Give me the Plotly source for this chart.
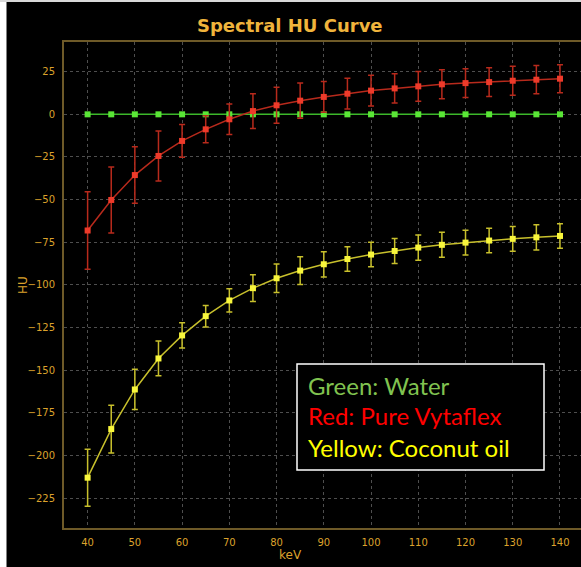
import plotly.graph_objects as go

kev = [40, 45, 50, 55, 60, 65, 70, 75, 80, 85, 90, 95, 100, 105, 110, 115, 120, 125, 130, 135, 140]

water_hu = [0] * 21

vytaflex_hu = [-68.1, -50.2, -35.6, -24.4, -15.6, -8.8, -2.9, 1.9, 5.3, 8.0,
               10.2, 12.1, 13.9, 15.2, 16.4, 17.6, 18.3, 18.9, 19.7, 20.3, 20.9]
vytaflex_err = [22.7, 19.3, 16.6, 14.7, 9.6, 7.9, 8.9, 10.2, 10.6, 10.3,
                9.0, 9.0, 9.0, 8.6, 8.7, 8.5, 8.4, 8.4, 8.5, 8.3, 8.2]

coconut_hu = [-213.0, -184.5, -161.3, -143.1, -129.6, -118.3, -109.1, -101.9, -96.1, -91.6,
              -87.9, -84.8, -82.2, -80.1, -78.1, -76.5, -75.2, -74.0, -73.0, -72.1, -71.3]
coconut_err = [16.7, 14.0, 11.8, 10.2, 7.4, 6.3, 6.8, 7.8, 8.4, 8.1,
               7.4, 7.2, 7.2, 7.3, 7.4, 7.3, 7.3, 7.2, 7.2, 7.4, 7.2]

x_ticks = [40, 50, 60, 70, 80, 90, 100, 110, 120, 130, 140]
y_ticks = [-225, -200, -175, -150, -125, -100, -75, -50, -25, 0, 25]

legend_lines = ["Green: Water", "Red: Pure Vytaflex", "Yellow: Coconut oil"]
legend_colors = ["#80c350", "#ff0000", "#ffff00"]

W, H = 581, 567
L, R, T, B = 64, 0, 42, 39
PW, PH = W - L - R, H - T - B


def px(x):
    return (x - L) / PW


def py(y):
    return (H - B - y) / PH


fig = go.Figure()

fig.add_trace(go.Scatter(
    x=kev, y=water_hu, mode="lines+markers",
    line=dict(color="#3cb82a", width=1.5),
    marker=dict(symbol="square", size=6, color="#5ae636"),
    showlegend=False))

fig.add_trace(go.Scatter(
    x=kev, y=vytaflex_hu, mode="lines+markers",
    line=dict(color="#b82a1c", width=1.5),
    marker=dict(symbol="square", size=6, color="#ee3a2a"),
    error_y=dict(type="data", array=vytaflex_err, color="#b82a1c", thickness=1.5, width=3),
    showlegend=False))

fig.add_trace(go.Scatter(
    x=kev, y=coconut_hu, mode="lines+markers",
    line=dict(color="#c8c02c", width=1.5),
    marker=dict(symbol="square", size=6, color="#f8f63c"),
    error_y=dict(type="data", array=coconut_err, color="#c8c02c", thickness=1.5, width=3),
    showlegend=False))

tick_color = "#dca22c"
axis_line = "#6e5a28"
grid_color = "#4e4e4e"

fig.update_layout(
    width=W, height=H,
    margin=dict(l=L, r=R, t=T, b=B),
    paper_bgcolor="black", plot_bgcolor="black",
    font=dict(family="DejaVu Sans", color=tick_color, size=10),
    xaxis=dict(range=[35.0, 144.45], tickvals=x_ticks, showgrid=True,
               gridcolor=grid_color, griddash="dot", gridwidth=1,
               showline=True, linecolor=axis_line, linewidth=2, mirror=True,
               ticks="outside", ticklen=4, tickcolor="rgba(0,0,0,0)",
               tickfont=dict(color=tick_color, size=10), zeroline=False),
    yaxis=dict(range=[-242.5, 42.4], tickvals=y_ticks, showgrid=True,
               gridcolor=grid_color, griddash="dot", gridwidth=1,
               showline=True, linecolor=axis_line, linewidth=2,
               ticks="outside", ticklen=5, tickcolor="rgba(0,0,0,0)",
               tickfont=dict(color=tick_color, size=10), zeroline=False),
)

# white strips at the left and top edges of the picture
fig.add_shape(type="rect", xref="paper", yref="paper",
              x0=px(0), x1=px(6.5), y0=py(H + 5), y1=py(-5),
              fillcolor="white", line_width=0, layer="above")
fig.add_shape(type="rect", xref="paper", yref="paper",
              x0=px(0), x1=px(W + 5), y0=py(2), y1=py(-5),
              fillcolor="#d8d8d8", line_width=0, layer="above")

# title and axis titles
fig.add_annotation(text="<b>Spectral HU Curve</b>", xref="paper", yref="paper",
                   x=px(290), y=py(26), xanchor="center", yanchor="middle",
                   showarrow=False, font=dict(family="DejaVu Sans", size=18, color="#f0b43c"))
fig.add_annotation(text="keV", xref="paper", yref="paper",
                   x=px(290), y=py(555), xanchor="center", yanchor="middle",
                   showarrow=False, font=dict(family="DejaVu Sans", size=12, color=tick_color))
fig.add_annotation(text="HU", xref="paper", yref="paper",
                   x=px(23), y=py(285), xanchor="center", yanchor="middle", textangle=-90,
                   showarrow=False, font=dict(family="DejaVu Sans", size=12, color=tick_color))

# legend box
fig.add_shape(type="rect", xref="paper", yref="paper",
              x0=px(297), x1=px(544), y0=py(470), y1=py(364),
              fillcolor="black", line=dict(color="white", width=1.5), layer="above")
for i, (txt, col) in enumerate(zip(legend_lines, legend_colors)):
    fig.add_annotation(text=txt, xref="paper", yref="paper",
                       x=px(306), y=py(385 + 31 * i), xanchor="left", yanchor="middle",
                       showarrow=False, font=dict(family="Lato", size=24, color=col))

fig.write_html("out.html")
